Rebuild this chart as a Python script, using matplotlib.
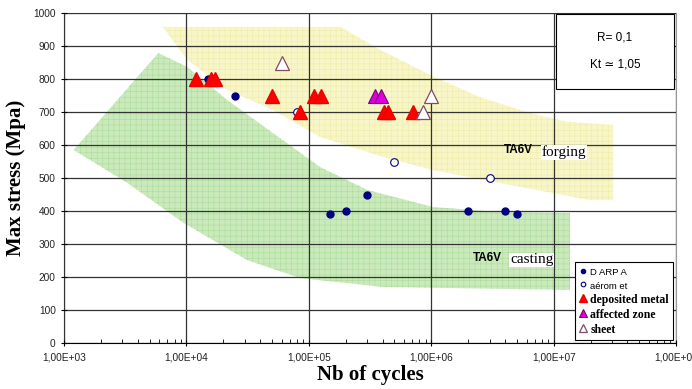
import numpy as np
import matplotlib.pyplot as plt
from matplotlib.patches import Polygon, Rectangle

plt.rcParams['font.family'] = ['Liberation Sans', 'DejaVu Sans']
plt.rcParams['hatch.linewidth'] = 0.4

# data (cycles, max stress in MPa)
darpa_n = [1.5e4, 2.5e4, 1.5e5, 2.0e5, 3.0e5, 2.0e6, 4.0e6, 5.0e6]
darpa_s = [800, 750, 390, 400, 450, 400, 400, 392]
aeromet_n = [8.0e4, 5.0e5, 3.0e6]
aeromet_s = [700, 550, 500]
deposited_n = [1.2e4, 1.6e4, 1.7e4, 5.0e4, 8.5e4, 1.1e5, 1.25e5, 4.1e5, 4.4e5, 7.1e5]
deposited_s = [800, 800, 800, 750, 700, 750, 750, 700, 700, 700]
affected_n = [3.5e5, 3.9e5]
affected_s = [750, 750]
sheet_n = [6.0e4, 1.0e6, 8.6e5]
sheet_s = [850, 750, 700]

# scatter bands (outline points, cycles / MPa)
forging_n = [6.4e3, 1.81e5, 3.84e5, 9.8e5, 2.5e6, 6.4e6, 1.29e7, 3.06e7,
             3.06e7, 1.99e7, 3.65e6, 1.04e6, 4.06e5, 1.24e5, 5.1e4, 2.16e4, 1.02e4]
forging_s = [958, 958, 888, 812, 745, 697, 670, 661,
             433, 433, 485, 524, 564, 624, 706, 767, 858]
casting_n = [1.2e3, 5.9e3, 1.02e4, 2.16e4, 5.1e4, 1.24e5, 3.0e5, 1.04e6, 3.65e6, 1.36e7,
             1.36e7, 4.06e5, 8.5e4, 3.15e4, 9.5e3, 3.3e3]
casting_s = [585, 879, 836, 736, 636, 533, 464, 412, 397, 394,
             161, 170, 197, 251, 364, 485]

y_ticks = list(range(0, 1001, 100))
x_ticks = [1e3, 1e4, 1e5, 1e6, 1e7, 1e8]
x_labels = ['1,00E+03', '1,00E+04', '1,00E+05', '1,00E+06', '1,00E+07', '1,00E+08']

fig = plt.figure(figsize=(6.92, 3.89), dpi=100)
ax = fig.add_axes([0.0925, 0.118, 0.8845, 0.8486])
ax.set_xscale('log')
ax.set_xlim(1e3, 1e8)
ax.set_ylim(0, 1000)

# bands
ax.add_patch(Polygon(np.column_stack([forging_n, forging_s]), closed=True,
                     facecolor='#f8f6c8', edgecolor='#eeeca6', hatch='+++', lw=0, zorder=1))
ax.add_patch(Polygon(np.column_stack([casting_n, casting_s]), closed=True,
                     facecolor='#cbeabc', edgecolor='#acdb9c', hatch='+++', lw=0, zorder=1))

ax.set_yticks(y_ticks)
ax.set_xticks(x_ticks)
ax.set_xticklabels(x_labels)
ax.grid(True, which='major', color='#333333', lw=0.9, zorder=2)
ax.set_axisbelow(False)
for sp in ax.spines.values():
    sp.set_color('#999999')
ax.spines['left'].set_color('black')
ax.spines['bottom'].set_color('black')
ax.tick_params(axis='both', which='major', labelsize=7.3, labelcolor='#222222', direction='inout', length=5)
ax.tick_params(axis='x', which='minor', direction='in', length=3)
ax.tick_params(axis='x', pad=4)

ax.set_xlabel('Nb of cycles', family='Liberation Serif', fontweight='bold', fontsize=15, labelpad=2)
ax.set_ylabel('Max stress (Mpa)', family='Liberation Serif', fontweight='bold', fontsize=15, labelpad=5)

ax.plot(darpa_n, darpa_s, 'o', ms=5, color='#000080', ls='none', label='D ARP A', zorder=5)
ax.plot(aeromet_n, aeromet_s, 'o', ms=5.5, mfc='white', mec='#000080', mew=0.8, ls='none', label='aérom et', zorder=5)
ax.plot(deposited_n, deposited_s, '^', ms=9.5, color='#ff0000', mec='#ee0000', ls='none', label='deposited metal', zorder=6)
ax.plot(affected_n, affected_s, '^', ms=9.5, mfc='#dd00dd', mec='#800080', mew=0.8, ls='none', label='affected zone', zorder=6)
ax.plot(sheet_n, sheet_s, '^', ms=9.5, mfc='white', mec='#804a6a', mew=0.9, ls='none', label='sheet', zorder=6)

# band labels
ax.text(3.9e6, 585, 'TA6V', fontsize=8.5, fontweight='bold', va='center', ha='left', zorder=4)
ax.text(8.0e6, 578, 'forging', family='Liberation Serif', fontsize=11, va='center', ha='left', zorder=4,
        bbox=dict(facecolor='white', edgecolor='none', pad=0.5))
ax.text(2.2e6, 258, 'TA6V', fontsize=8.5, fontweight='bold', va='center', ha='left', zorder=4)
ax.text(4.4e6, 252, 'casting', family='Liberation Serif', fontsize=11, va='center', ha='left', zorder=4,
        bbox=dict(facecolor='white', edgecolor='none', pad=0.5))

# R / Kt box
ax.add_patch(Rectangle((0.804, 0.770), 0.193, 0.227, transform=ax.transAxes,
                       facecolor='white', edgecolor='black', lw=0.8, zorder=7))
ax.text(0.9, 0.925, 'R= 0,1', transform=ax.transAxes, ha='center', va='center', fontsize=8.5, zorder=8)
ax.text(0.9, 0.845, 'Kt ≃ 1,05', transform=ax.transAxes, ha='center', va='center', fontsize=8.5, zorder=8)

leg = ax.legend(loc='upper right', bbox_to_anchor=(0.995, 0.247), frameon=True, fancybox=False,
                edgecolor='black', framealpha=1, handlelength=0.6, handletextpad=0.2,
                borderpad=0.3, labelspacing=0.15, borderaxespad=0, markerscale=0.6)
leg.set_zorder(9)
leg.get_frame().set_linewidth(0.8)
txts = leg.get_texts()
for t in txts[:2]:
    t.set_fontsize(6.8)
for t in txts[2:]:
    t.set_family('Liberation Serif')
    t.set_fontweight('bold')
    t.set_fontsize(8.5)

fig.savefig('out.png', dpi=100)
